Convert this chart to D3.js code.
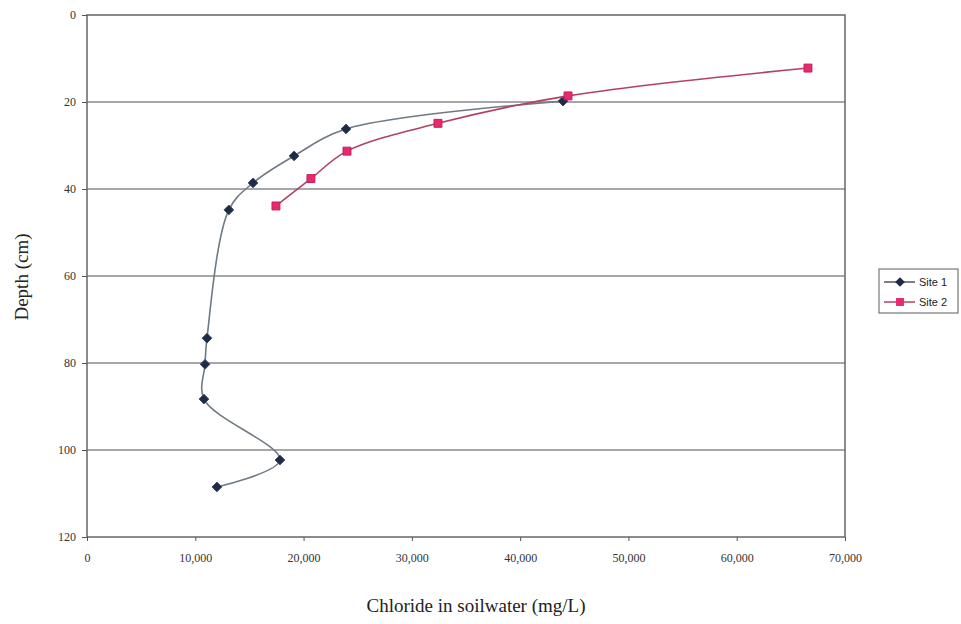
<!DOCTYPE html>
<html>
<head>
<meta charset="utf-8">
<script src="https://cdn.jsdelivr.net/npm/d3@7"></script>
<style>
  body { margin: 0; background: #fff; }
</style>
</head>
<body>
<svg width="961" height="624"></svg>
<script>
// chloride (mg/L) vs depth (cm)
var site1Chloride = [43960, 23920, 19120, 15330, 13100, 11080, 10900, 10800, 17820, 12000];
var site1Depth = [19.8, 26.2, 32.4, 38.6, 44.8, 74.3, 80.3, 88.3, 102.3, 108.5];
var site2Chloride = [66580, 44420, 32410, 24010, 20680, 17450];
var site2Depth = [12.2, 18.6, 24.9, 31.3, 37.6, 43.9];
var depthTicks = [0, 20, 40, 60, 80, 100, 120];
var chlorideTicks = [0, 10000, 20000, 30000, 40000, 50000, 60000, 70000];
var seriesNames = ['Site 1', 'Site 2'];

const svg = d3.select('svg');
const margin = {left: 87, top: 15, right: 116, bottom: 87};
const width = 961 - margin.left - margin.right;
const height = 624 - margin.top - margin.bottom;

const x = d3.scaleLinear().domain([0, 70000]).range([0, width]);
const y = d3.scaleLinear().domain([0, 120]).range([0, height]);

const g = svg.append('g').attr('transform', `translate(${margin.left},${margin.top})`);

// horizontal gridlines
g.append('g')
  .selectAll('line')
  .data(depthTicks.slice(1, -1))
  .join('line')
  .attr('x1', 0).attr('x2', width)
  .attr('y1', d => y(d)).attr('y2', d => y(d))
  .attr('stroke', '#8a8a8a').attr('stroke-width', 1.3);

// frame
g.append('rect')
  .attr('width', width).attr('height', height)
  .attr('fill', 'none').attr('stroke', '#666').attr('stroke-width', 1.5);

const fmt = d3.format(',');
const yAxis = g.append('g')
  .call(d3.axisLeft(y).tickValues(depthTicks).tickSize(5).tickPadding(6).tickFormat(d => d));
const xAxis = g.append('g')
  .attr('transform', `translate(0,${height})`)
  .call(d3.axisBottom(x).tickValues(chlorideTicks).tickSize(4).tickPadding(12).tickFormat(d => fmt(d)));
[yAxis, xAxis].forEach(a => {
  a.select('.domain').remove();
  a.selectAll('line').attr('stroke', '#555');
  a.selectAll('text')
    .attr('font-family', 'Liberation Serif, serif')
    .attr('font-size', 12)
    .attr('fill', '#333');
});

// axis titles
svg.append('text')
  .attr('x', 476).attr('y', 612)
  .attr('text-anchor', 'middle')
  .attr('font-family', 'Liberation Serif, serif')
  .attr('font-size', 19)
  .attr('fill', '#222')
  .text('Chloride in soilwater (mg/L)');
svg.append('text')
  .attr('transform', 'translate(28,277) rotate(-90)')
  .attr('text-anchor', 'middle')
  .attr('font-family', 'Liberation Serif, serif')
  .attr('font-size', 19)
  .attr('fill', '#222')
  .text('Depth (cm)');

const site1 = site1Chloride.map((c, i) => ({c: c, d: site1Depth[i]}));
const site2 = site2Chloride.map((c, i) => ({c: c, d: site2Depth[i]}));

const line = d3.line()
  .x(d => x(d.c)).y(d => y(d.d))
  .curve(d3.curveCatmullRom.alpha(0.5));

const diamond = d3.symbol().type(d3.symbolDiamond2).size(60);
const square = d3.symbol().type(d3.symbolSquare2).size(80);

// Site 1
g.append('path')
  .datum(site1)
  .attr('d', line)
  .attr('fill', 'none').attr('stroke', '#707a84').attr('stroke-width', 1.6);
g.append('g')
  .selectAll('path')
  .data(site1)
  .join('path')
  .attr('transform', d => `translate(${x(d.c)},${y(d.d)})`)
  .attr('d', diamond)
  .attr('fill', '#1e2b48').attr('stroke', '#3b4a66').attr('stroke-width', 1);

// Site 2
g.append('path')
  .datum(site2)
  .attr('d', line)
  .attr('fill', 'none').attr('stroke', '#b4405f').attr('stroke-width', 1.6);
g.append('g')
  .selectAll('path')
  .data(site2)
  .join('path')
  .attr('transform', d => `translate(${x(d.c)},${y(d.d)})`)
  .attr('d', square)
  .attr('fill', '#e8286f').attr('stroke', '#c41f5a').attr('stroke-width', 1);

// legend
const legend = svg.append('g').attr('transform', 'translate(879,269)');
legend.append('rect')
  .attr('width', 79).attr('height', 44)
  .attr('fill', '#fff').attr('stroke', '#777').attr('stroke-width', 1.2);
const item = legend.selectAll('g')
  .data(seriesNames)
  .join('g')
  .attr('transform', (d, i) => `translate(0,${13 + i * 20})`);
item.append('line')
  .attr('x1', 5).attr('x2', 36)
  .attr('stroke', (d, i) => i ? '#b4405f' : '#555').attr('stroke-width', 1.5);
item.append('path')
  .attr('transform', 'translate(21,0)')
  .attr('d', (d, i) => i ? square() : diamond())
  .attr('fill', (d, i) => i ? '#e8286f' : '#1e2b48');
item.append('text')
  .attr('x', 40).attr('dy', '0.35em')
  .attr('font-family', 'Liberation Sans, Arial, sans-serif')
  .attr('font-size', 11)
  .attr('fill', '#222')
  .text(d => d);
</script>
</body>
</html>
